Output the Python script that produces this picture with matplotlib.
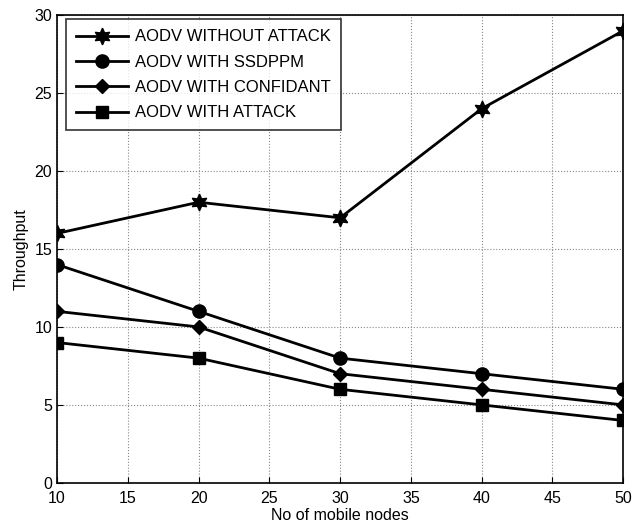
import numpy as np
import matplotlib
matplotlib.use("Agg")
import matplotlib.pyplot as plt

plt.rcParams['font.family'] = ['Liberation Sans', 'DejaVu Sans']

nodes = [10, 20, 30, 40, 50]
without_attack = [16, 18, 17, 24, 29]
with_ssdppm = [14, 11, 8, 7, 6]
with_confidant = [11, 10, 7, 6, 5]
with_attack = [9, 8, 6, 5, 4]

labels = ["AODV WITHOUT ATTACK", "AODV WITH SSDPPM",
          "AODV WITH CONFIDANT", "AODV WITH ATTACK"]
markers = [(6, 1, 0), "o", "D", "s"]
msizes = [12, 9.5, 7.5, 8.5]

fig = plt.figure(figsize=(6.34, 5.22), dpi=100)
ax = fig.add_axes([0.09, 0.075, 0.893, 0.896])

series = [without_attack, with_ssdppm, with_confidant, with_attack]
for ys, lab, mk, ms in zip(series, labels, markers, msizes):
    ax.plot(nodes, ys, color="k", lw=2, marker=mk, ms=ms, label=lab)

ax.set_xlim(10, 50)
ax.set_ylim(0, 30)
ax.set_xticks(np.arange(10, 51, 5))
ax.set_yticks(np.arange(0, 31, 5))
ax.grid(True, color="#888888", linestyle=":", linewidth=0.8)
ax.tick_params(direction="in", labelsize=11.5, length=4, width=0.8)
ax.tick_params(axis="x", pad=6)
for sp in ax.spines.values():
    sp.set_linewidth(1.2)
ax.set_xlabel("No of mobile nodes", fontsize=11.5, labelpad=1)
ax.set_ylabel("Throughput", fontsize=11.5, labelpad=4)

leg = ax.legend(loc="upper left", bbox_to_anchor=(0.016, 0.991), fontsize=12,
                frameon=True, fancybox=False, edgecolor="k", borderaxespad=0,
                handlelength=3.1, labelspacing=0.62, borderpad=0.6,
                handletextpad=0.42)
leg.get_frame().set_linewidth(1.2)

fig.savefig("out.png", dpi=100)
